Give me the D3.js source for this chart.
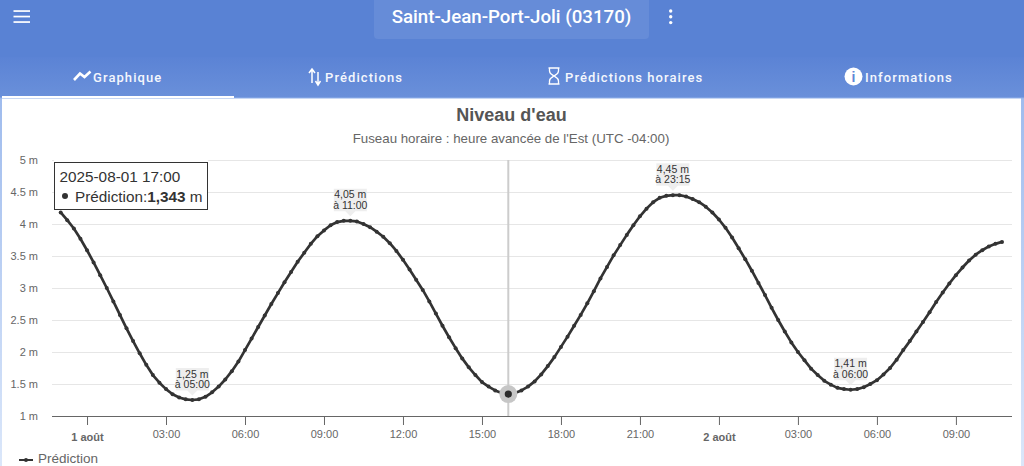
<!DOCTYPE html>
<html lang="fr">
<head>
<meta charset="utf-8">
<script src="https://cdn.jsdelivr.net/npm/d3@7/dist/d3.min.js"></script>
<style>
html,body{margin:0;padding:0;width:1024px;height:466px;overflow:hidden;background:#fff}
svg{display:block}
text{font-family:"Liberation Sans",Arial,sans-serif}
.ui{font-family:Roboto,"Liberation Sans",sans-serif}
</style>
</head>
<body>
<svg id="c" width="1024" height="466"></svg>
<script>
const stationTitle = "Saint-Jean-Port-Joli (03170)";
const tabLabels = ["Graphique", "Prédictions", "Prédictions horaires", "Informations"];
const chartTitle = "Niveau d'eau";
const chartSubtitle = "Fuseau horaire : heure avancée de l'Est (UTC -04:00)";
const seriesName = "Prédiction";

const firstHour = -1;
const stepHours = 0.25;
const levels = [
 4.18,4.06,3.93,3.77,3.59,3.40,3.20,3.00,2.79,2.58,2.37,2.17,1.98,1.80,1.64,1.52,
 1.42,1.34,1.29,1.26,1.25,1.26,1.30,1.37,1.46,1.57,1.70,1.85,2.03,2.21,2.39,2.57,
 2.75,2.92,3.09,3.25,3.41,3.55,3.69,3.81,3.90,3.98,4.03,4.05,4.05,4.04,4.00,3.95,
 3.88,3.80,3.70,3.58,3.44,3.29,3.13,2.97,2.79,2.60,2.41,2.23,2.06,1.90,1.76,1.64,
 1.53,1.46,1.40,1.36,1.343,1.36,1.40,1.46,1.54,1.65,1.78,1.92,2.08,2.24,2.41,2.58,
 2.76,2.95,3.15,3.33,3.51,3.67,3.83,3.98,4.12,4.24,4.34,4.41,4.44,4.45,4.45,4.43,
 4.39,4.34,4.27,4.18,4.07,3.94,3.79,3.62,3.45,3.27,3.08,2.89,2.69,2.50,2.32,2.15,
 2.00,1.87,1.74,1.64,1.55,1.49,1.44,1.42,1.41,1.42,1.45,1.50,1.56,1.65,1.75,1.88,
 2.03,2.17,2.32,2.47,2.62,2.78,2.93,3.07,3.20,3.32,3.43,3.52,3.59,3.65,3.69,3.72
];

const yTickValues = [1,1.5,2,2.5,3,3.5,4,4.5,5];
const yTickLabels = ["1 m","1.5 m","2 m","2.5 m","3 m","3.5 m","4 m","4.5 m","5 m"];
const xTickHours = [0,3,6,9,12,15,18,21,24,27,30,33];
const xTickLabels = ["1 août","03:00","06:00","09:00","12:00","15:00","18:00","21:00","2 août","03:00","06:00","09:00"];
const dayTicks = ["1 août","2 août"];

const extremaHours = [4,10,22.25,29];
const extremaValues = [1.25,4.05,4.45,1.41];
const extremaLines = [["1,25 m","à 05:00"],["4,05 m","à 11:00"],["4,45 m","à 23:15"],["1,41 m","à 06:00"]];

const hoverHour = 16;
const hoverValue = 1.343;
const tooltipTime = "2025-08-01 17:00";
const tooltipValue = "1,343";

const data = levels.map((v,i)=>({h:firstHour+i*stepHours,v}));
const svg = d3.select("#c");
const x = d3.scaleLinear().domain([-1.33,35.13]).range([52,1012]);
const y = d3.scaleLinear().domain([1,5]).range([416,160]);

/* page chrome */
const defs = svg.append("defs");
const g1 = defs.append("linearGradient").attr("id","side").attr("x1",0).attr("x2",0).attr("y1",0).attr("y2",1);
g1.append("stop").attr("offset",0).attr("stop-color","#8fb0ea");
g1.append("stop").attr("offset",1).attr("stop-color","#dbe7fa");
const g2 = defs.append("linearGradient").attr("id","band").attr("x1",0).attr("x2",0).attr("y1",0).attr("y2",1);
g2.append("stop").attr("offset",0).attr("stop-color","#5b83d5");
g2.append("stop").attr("offset",1).attr("stop-color","#6a90da");

svg.append("rect").attr("width",1024).attr("height",466).attr("fill","url(#side)");
svg.append("rect").attr("width",1024).attr("height",57).attr("fill","#5982d4");
svg.append("rect").attr("y",57).attr("width",1024).attr("height",41).attr("fill","url(#band)");
svg.append("rect").attr("x",2).attr("y",98).attr("width",1019).attr("height",368).attr("fill","#fff");
svg.append("rect").attr("x",0).attr("y",97.5).attr("width",1024).attr("height",1).attr("fill","#8fb0ea");
svg.append("rect").attr("x",2).attr("y",96).attr("width",232).attr("height",2).attr("fill","#fff");

svg.append("rect").attr("x",374).attr("y",-6).attr("width",275).attr("height",45).attr("rx",4).attr("fill","#668cd8");
svg.append("text").attr("class","ui").attr("x",511.5).attr("y",22.5).attr("text-anchor","middle")
  .attr("fill","#fff").attr("font-size",18.7).attr("font-weight",500).text(stationTitle);

[11,16.5,22].forEach(yy=>svg.append("rect").attr("x",13.5).attr("y",yy-.8).attr("width",16.5).attr("height",1.7).attr("fill","#fff"));
[11,16.7,22.6].forEach(yy=>svg.append("circle").attr("cx",670.7).attr("cy",yy).attr("r",1.7).attr("fill","#fff"));

const tabX = [93,325,565,865];
tabLabels.forEach((t,i)=>svg.append("text").attr("class","ui").attr("x",tabX[i]).attr("y",81.5)
  .attr("fill","#f4f7fd").attr("font-size",13).attr("font-weight",500).attr("letter-spacing",1.08).text(t));

svg.append("path").attr("d","M74 80 L80 73.5 L84.5 77 L90.5 71.5").attr("fill","none").attr("stroke","#fff").attr("stroke-width",2.6);
svg.append("path").attr("d","M312 83 V70 M309 73 L312 69 L315 73 M318 72 V84 M315.5 81 L318 85 L320.5 81")
  .attr("fill","none").attr("stroke","#fff").attr("stroke-width",1.5);
svg.append("path").attr("d","M548.5 68 H559.5 M548.5 84 H559.5 M549.5 68 V71 C549.5 74 552.5 75 554 76 C555.5 75 558.5 74 558.5 71 V68 M549.5 84 V81 C549.5 78 552.5 77 554 76 C555.5 77 558.5 78 558.5 81 V84")
  .attr("fill","none").attr("stroke","#fff").attr("stroke-width",1.3);
svg.append("circle").attr("cx",853.5).attr("cy",76.5).attr("r",9).attr("fill","#fff");
svg.append("text").attr("x",853.5).attr("y",81.5).attr("text-anchor","middle").attr("fill","#5f87d6").attr("font-size",14).attr("font-weight",700).text("i");

/* titles */
svg.append("text").attr("x",511.5).attr("y",121).attr("text-anchor","middle").attr("fill","#555").attr("font-size",18).attr("font-weight",700).text(chartTitle);
svg.append("text").attr("x",511).attr("y",143).attr("text-anchor","middle").attr("fill","#666").attr("font-size",13.3).text(chartSubtitle);

/* grid + axes */
const gy = svg.append("g").attr("transform","translate(52,0)")
  .call(d3.axisLeft(y).tickValues(yTickValues).tickFormat((d,i)=>yTickLabels[i]).tickSize(0).tickPadding(14));
gy.select(".domain").remove();
gy.selectAll("text").attr("fill","#666").attr("font-size",11).attr("font-family",'"Liberation Sans",Arial,sans-serif');
svg.append("g").selectAll("line").data(yTickValues.slice(1)).join("line")
  .attr("x1",52).attr("x2",1012).attr("y1",d=>y(d)+.5).attr("y2",d=>y(d)+.5).attr("stroke","#e6e6e6");

const gx = svg.append("g").attr("transform","translate(0,416)")
  .call(d3.axisBottom(x).tickValues(xTickHours).tickFormat((d,i)=>xTickLabels[i]).tickSize(9).tickSizeOuter(0).tickPadding(5));
gx.select(".domain").attr("stroke","#666").attr("d","M52,0.5H1012");
gx.selectAll("line").attr("stroke","#666");
gx.selectAll("text").attr("fill","#666").attr("font-size",11).attr("font-family",'"Liberation Sans",Arial,sans-serif')
  .attr("font-weight",(d,i)=>dayTicks.includes(xTickLabels[i])?700:400)
  .attr("dy",(d,i)=>dayTicks.includes(xTickLabels[i])?"1em":"0.71em");

/* crosshair */
svg.append("line").attr("x1",x(hoverHour)).attr("x2",x(hoverHour)).attr("y1",160).attr("y2",416).attr("stroke","#ccc").attr("stroke-width",2);

/* series */
const line = d3.line().x(d=>x(d.h)).y(d=>y(d.v));
svg.append("path").datum(data).attr("d",line).attr("fill","none").attr("stroke","#333").attr("stroke-width",2.7).attr("stroke-linejoin","round");
svg.append("g").selectAll("circle").data(data).join("circle").attr("cx",d=>x(d.h)).attr("cy",d=>y(d.v)).attr("r",2).attr("fill","#333");

/* hover */
svg.append("circle").attr("cx",x(hoverHour)).attr("cy",y(hoverValue)).attr("r",9).attr("fill","#c6c6c6");
svg.append("circle").attr("cx",x(hoverHour)).attr("cy",y(hoverValue)).attr("r",3.6).attr("fill","#2b2b2b");

/* extrema labels */
extremaHours.forEach((h,i)=>{
  const px=x(h), py=y(extremaValues[i]);
  const g=svg.append("g");
  g.append("path").attr("d",`M${px-16.5},${py-32} H${px+16.5} V${py-9.5} H${px+5} L${px},${py-4.5} L${px-5},${py-9.5} H${px-16.5} Z`)
    .attr("fill","#ececec").attr("fill-opacity",.88);
  extremaLines[i].forEach((s,j)=>g.append("text").attr("x",px).attr("y",py-22.5+j*10.4)
    .attr("text-anchor","middle").attr("fill","#333").attr("font-size",10.5).text(s));
});

/* tooltip */
svg.append("rect").attr("x",54).attr("y",158).attr("width",154).attr("height",52).attr("fill","#fff");
svg.append("rect").attr("x",54.5).attr("y",162.5).attr("width",153).attr("height",47).attr("fill","#fff").attr("stroke","#333");
svg.append("text").attr("x",59.5).attr("y",181.5).attr("fill","#333").attr("font-size",15.3).text(tooltipTime);
svg.append("circle").attr("cx",65).attr("cy",196).attr("r",3).attr("fill","#333");
const t2=svg.append("text").attr("x",75).attr("y",201.5).attr("fill","#333").attr("font-size",15.3);
t2.append("tspan").text(seriesName+":");
t2.append("tspan").attr("font-weight",700).text(tooltipValue);
t2.append("tspan").text(" m");

/* legend */
svg.append("line").attr("x1",19).attr("x2",33).attr("y1",460).attr("y2",460).attr("stroke","#333").attr("stroke-width",2);
svg.append("circle").attr("cx",26).attr("cy",460).attr("r",2).attr("fill","#333");
svg.append("text").attr("x",38).attr("y",463).attr("fill","#666").attr("font-size",13.5).text(seriesName);
</script>
</body>
</html>
